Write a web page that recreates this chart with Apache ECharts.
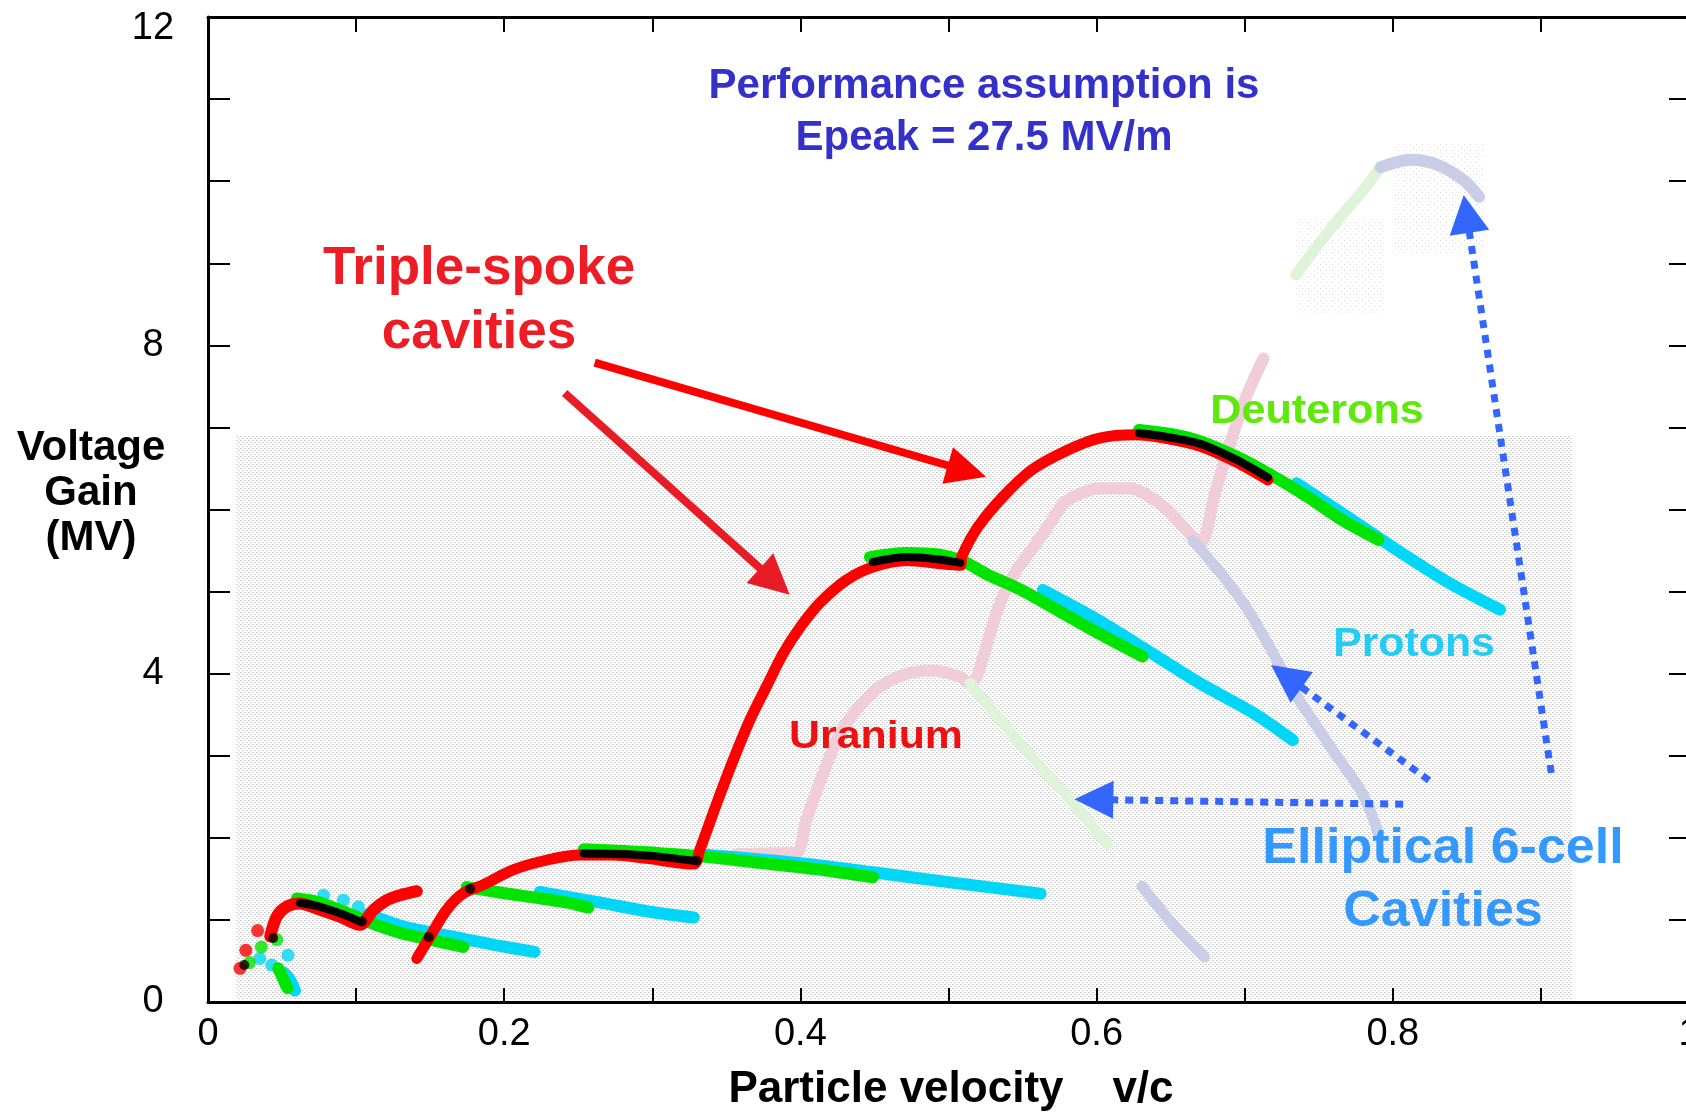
<!DOCTYPE html>
<html>
<head>
<meta charset="utf-8">
<script src="https://cdn.jsdelivr.net/npm/echarts@6/dist/echarts.min.js"></script>
<style>
  html, body { margin: 0; padding: 0; background: #ffffff; overflow: hidden; }
  #chart { width: 1686px; height: 1112px; }
</style>
</head>
<body>
<div id="chart"></div>
<script>
// ---- Tick labels ----
const xTickLabels = ['0', '0.2', '0.4', '0.6', '0.8', '1'];
const yTickLabels = ['0', '4', '8', '12'];

// ---- Triple-spoke cavities: voltage gain (MV) vs v/c ----
// Uranium (red)
const uraniumDots = [[0.0216, 0.41], [0.0255, 0.63], [0.0335, 0.87]];
const uraniumStage1 = [[0.042, 0.80], [0.0464, 1.04], [0.053, 1.16], [0.062, 1.20], [0.0734, 1.14], [0.089, 1.04],
  [0.1026, 0.94], [0.1116, 1.12], [0.1206, 1.24], [0.1296, 1.30], [0.141, 1.35]];
const uraniumStage2 = [[0.141, 0.53], [0.150, 0.80], [0.161, 1.12], [0.172, 1.32], [0.186, 1.43], [0.206, 1.61],
  [0.229, 1.73], [0.251, 1.79], [0.274, 1.79], [0.296, 1.75], [0.328, 1.68], [0.332, 1.85], [0.3435, 2.42],
  [0.3547, 2.95], [0.366, 3.44], [0.377, 3.84], [0.3885, 4.25], [0.400, 4.57], [0.413, 4.86], [0.431, 5.14],
  [0.449, 5.30], [0.472, 5.38], [0.494, 5.34], [0.508, 5.32], [0.509, 5.43], [0.520, 5.79], [0.537, 6.16],
  [0.556, 6.48], [0.5806, 6.725], [0.602, 6.87], [0.626, 6.91], [0.6457, 6.87], [0.670, 6.77], [0.694, 6.58],
  [0.7157, 6.36]];

// Deuterons (green)
const deuteronDots = [[0.028, 0.48], [0.036, 0.67], [0.0464, 0.76]];
const deuteronDrop = [[0.0475, 0.41], [0.051, 0.27], [0.0536, 0.17]];
const deuteronStage1 = [[0.060, 1.26], [0.0734, 1.22], [0.089, 1.12], [0.1026, 1.02], [0.115, 0.93], [0.130, 0.84],
  [0.150, 0.76], [0.1724, 0.67]];
const deuteronStage2 = [[0.1747, 1.40], [0.195, 1.34], [0.2174, 1.28], [0.240, 1.22], [0.2568, 1.15]];
const deuteronStage3 = [[0.2537, 1.86], [0.280, 1.84], [0.300, 1.82], [0.330, 1.78], [0.370, 1.70], [0.410, 1.62],
  [0.449, 1.52]];
const deuteronStage4 = [[0.447, 5.42], [0.4718, 5.47], [0.494, 5.45], [0.510, 5.37], [0.525, 5.22], [0.549, 5.02],
  [0.573, 4.78], [0.5975, 4.53], [0.631, 4.21]];
const deuteronStage5 = [[0.6287, 6.97], [0.650, 6.92], [0.670, 6.83], [0.694, 6.65], [0.716, 6.44], [0.742, 6.16],
  [0.766, 5.87], [0.7903, 5.63]];

// Protons (cyan)
const protonDots = [[0.035, 0.53], [0.043, 0.45], [0.054, 0.57], [0.078, 1.30], [0.0914, 1.24], [0.1015, 1.16]];
const protonDrop = [[0.051, 0.36], [0.0554, 0.27], [0.0587, 0.14]];
const protonStage1 = [[0.108, 1.07], [0.130, 0.93], [0.150, 0.85], [0.1724, 0.77], [0.195, 0.69], [0.2205, 0.61]];
const protonStage2 = [[0.224, 1.34], [0.2624, 1.22], [0.2984, 1.10], [0.328, 1.03]];
const protonStage3 = [[0.332, 1.80], [0.400, 1.69], [0.449, 1.58], [0.500, 1.46], [0.5622, 1.32]];
const protonStage4 = [[0.5637, 5.02], [0.5975, 4.69], [0.6336, 4.29], [0.670, 3.88], [0.706, 3.52], [0.7325, 3.19]];
const protonStage5 = [[0.735, 6.32], [0.766, 5.95], [0.8025, 5.51], [0.8386, 5.10], [0.8724, 4.78]];

// Where the uranium and deuteron curves coincide (black)
const sharedDots = [[0.0245, 0.45], [0.044, 0.78], [0.104, 0.98], [0.149, 0.79], [0.177, 1.38], [0.330, 1.72]];
const sharedStage1 = [[0.062, 1.21], [0.0734, 1.17], [0.089, 1.08], [0.1026, 0.98]];
const sharedStage3 = [[0.2537, 1.81], [0.280, 1.80], [0.300, 1.78], [0.328, 1.72]];
const sharedStage4 = [[0.449, 5.36], [0.472, 5.42], [0.494, 5.39], [0.508, 5.35]];
const sharedStage5 = [[0.6287, 6.93], [0.6457, 6.89], [0.670, 6.80], [0.694, 6.61], [0.7157, 6.39]];

// ---- Elliptical 6-cell cavities (faded) ----
const ellipticalUranium = [[0.357, 1.80], [0.375, 1.81], [0.397, 1.82], [0.404, 2.22], [0.4155, 2.79], [0.4267, 3.27],
  [0.438, 3.56], [0.4537, 3.84], [0.4718, 4.00], [0.4897, 4.04], [0.5078, 3.96], [0.5145, 3.88], [0.519, 3.96],
  [0.5255, 4.33], [0.5348, 4.86], [0.546, 5.26], [0.5573, 5.54], [0.5685, 5.83], [0.578, 6.08], [0.590, 6.20],
  [0.602, 6.26], [0.6216, 6.26], [0.6457, 6.03], [0.6647, 5.67], [0.6705, 5.60], [0.680, 6.20], [0.688, 6.68],
  [0.700, 7.33], [0.7127, 7.84]];
const ellipticalDeuteronLow = [[0.5145, 3.88], [0.539, 3.35], [0.5618, 2.87], [0.5843, 2.42], [0.6074, 1.92]];
const ellipticalProtonLow = [[0.665, 5.62], [0.684, 5.22], [0.701, 4.81], [0.718, 4.29], [0.7325, 3.80], [0.749, 3.35],
  [0.760, 3.05], [0.7795, 2.54], [0.7904, 2.05]];
const ellipticalProtonTail = [[0.6306, 1.41], [0.650, 0.98], [0.6727, 0.55]];
const ellipticalDeuteronHigh = [[0.7345, 8.86], [0.759, 9.44], [0.780, 9.89], [0.7918, 10.17]];
const ellipticalProtonHigh = [[0.7918, 10.17], [0.8125, 10.26], [0.830, 10.20], [0.8479, 10.01], [0.8582, 9.81]];

// ---- Colours ----
const RED = '#ff0000', GREEN = '#00e400', CYAN = '#00d6f8', BLACK = '#000000';
const PALE_PINK = '#f1cdd9', PALE_GREEN = '#dff3d8', PALE_BLUE = '#c9cde6';

const chart = echarts.init(document.getElementById('chart'), null, { renderer: 'canvas' });

function curve(data, color, width, z) {
  return {
    type: 'line', data: data, showSymbol: false, smooth: 0.3,
    lineStyle: { color: color, width: width, cap: 'round', join: 'round' },
    z: z, silent: true, animation: false
  };
}
function dots(data, color, size, z) {
  return {
    type: 'scatter', data: data, symbol: 'circle', symbolSize: size,
    itemStyle: { color: color }, z: z, silent: true, animation: false
  };
}

const series = [
  curve(ellipticalUranium, PALE_PINK, 12, 1),
  curve(ellipticalDeuteronLow, PALE_GREEN, 11, 1),
  curve(ellipticalProtonLow, PALE_BLUE, 11, 1),
  curve(ellipticalProtonTail, PALE_BLUE, 11, 1),
  curve(ellipticalDeuteronHigh, PALE_GREEN, 11, 1),
  curve(ellipticalProtonHigh, PALE_BLUE, 12, 1),

  dots(protonDots, CYAN, 13, 3),
  curve(protonDrop, CYAN, 12, 3),
  curve(protonStage1, CYAN, 12, 3),
  curve(protonStage2, CYAN, 12, 3),
  curve(protonStage3, CYAN, 12, 3),
  curve(protonStage4, CYAN, 12, 3),
  curve(protonStage5, CYAN, 12, 3),

  dots(deuteronDots, GREEN, 13, 4),
  curve(deuteronDrop, GREEN, 12, 4),
  curve(deuteronStage1, GREEN, 12, 4),
  curve(deuteronStage2, GREEN, 12, 4),
  curve(deuteronStage3, GREEN, 12, 4),
  curve(deuteronStage4, GREEN, 12, 4),
  curve(deuteronStage5, GREEN, 12, 4),

  dots(uraniumDots, RED, 13, 5),
  curve(uraniumStage1, RED, 12, 5),
  curve(uraniumStage2, RED, 11, 5),

  dots(sharedDots, BLACK, 10, 6),
  curve(sharedStage1, BLACK, 8, 6),
  curve(sharedStage3, BLACK, 8, 6),
  curve(sharedStage4, BLACK, 8, 6),
  curve(sharedStage5, BLACK, 8, 6)
];

const tickFont = { fontFamily: 'Liberation Sans', fontSize: 38, color: '#000000' };
const frameLine = { onZero: false, lineStyle: { color: '#000', width: 3 } };

chart.setOption({
  animation: false,
  backgroundColor: '#ffffff',
  grid: { left: 208, top: 17, right: -3, bottom: 110, containLabel: false, outerBoundsMode: 'none' },
  xAxis: [
    {
      type: 'value', min: 0, max: 1, interval: 0.1, position: 'bottom',
      axisLine: frameLine,
      axisTick: { show: true, inside: true, length: 14, lineStyle: { color: '#000', width: 2 } },
      splitLine: { show: false },
      axisLabel: Object.assign({
        margin: 14, hideOverlap: false,
        formatter: function (v) { const r = Math.round(v * 10); return r % 2 === 0 ? xTickLabels[r / 2] : ''; }
      }, tickFont)
    },
    {
      type: 'value', min: 0, max: 1, interval: 0.1, position: 'top',
      axisLine: frameLine,
      axisTick: { show: true, inside: true, length: 15, lineStyle: { color: '#000', width: 2 } },
      splitLine: { show: false }, axisLabel: { show: false }
    }
  ],
  yAxis: [
    {
      type: 'value', min: 0, max: 12, interval: 1, position: 'left',
      axisLine: frameLine,
      axisTick: { show: true, inside: true, length: 22, lineStyle: { color: '#000', width: 2 } },
      splitLine: { show: false },
      axisLabel: Object.assign({
        margin: 55, align: 'center',
        formatter: function (v) {
          const r = Math.round(v);
          if (r % 4 !== 0) return '';
          return r === 12 ? '{top|' + yTickLabels[r / 4] + '}' : yTickLabels[r / 4];
        },
        rich: { top: { fontFamily: 'Liberation Sans', fontSize: 38, color: '#000', lineHeight: 38, padding: [24, 0, 0, 0] } }
      }, tickFont)
    },
    {
      type: 'value', min: 0, max: 12, interval: 1, position: 'right',
      axisLine: frameLine,
      axisTick: { show: true, inside: true, length: 20, lineStyle: { color: '#000', width: 2 } },
      splitLine: { show: false }, axisLabel: { show: false }
    }
  ],
  series: series
});

// ---- Annotations: stippled backdrop, titles, labels and arrows ----
const toPx = (p) => chart.convertToPixel({ gridIndex: 0 }, p);

function makeTile(size, dotsSpec) {
  const c = document.createElement('canvas');
  c.width = size; c.height = size;
  const ctx = c.getContext('2d');
  ctx.fillStyle = '#ffffff'; ctx.fillRect(0, 0, size, size);
  dotsSpec.forEach(d => { ctx.fillStyle = d[2]; ctx.fillRect(d[0], d[1], 1, 1); });
  return c;
}
const denseTile = makeTile(4, [[0, 0, '#c4c4c4'], [2, 2, '#c4c4c4'], [1, 0, '#dedede'], [3, 2, '#dedede']]);
const sparseTile = makeTile(6, [[0, 0, '#d4d4d4'], [3, 3, '#e4e4e4']]);

// stippled regions in data space: [lower-left, upper-right, tile]
const stippleBoxes = [
  [[0.019, 0.02], [0.921, 6.90], denseTile],
  [[0.800, 9.10], [0.862, 10.45], sparseTile],
  [[0.735, 8.40], [0.795, 9.55], sparseTile]
];

function arrow(tail, tip, color, width, dash, headLen, headW) {
  const p0 = toPx(tail), p1 = toPx(tip);
  const dx = p1[0] - p0[0], dy = p1[1] - p0[1];
  const len = Math.sqrt(dx * dx + dy * dy);
  const ux = dx / len, uy = dy / len, nx = -uy, ny = ux;
  const bx = p1[0] - ux * headLen, by = p1[1] - uy * headLen;
  return [
    { type: 'line', z: 20, silent: true,
      shape: { x1: p0[0], y1: p0[1], x2: bx + ux * 2, y2: by + uy * 2 },
      style: { stroke: color, lineWidth: width, lineDash: dash, lineCap: 'butt' } },
    { type: 'polygon', z: 20, silent: true,
      shape: { points: [[p1[0], p1[1]], [bx + nx * headW / 2, by + ny * headW / 2], [bx - nx * headW / 2, by - ny * headW / 2]] },
      style: { fill: color } }
  ];
}

function label(text, x, y, size, color, extra) {
  return Object.assign({
    type: 'text', x: x, y: y, z: 30, silent: true,
    style: {
      text: text, fill: color, align: 'center', verticalAlign: 'middle',
      font: 'bold ' + size + 'px "Liberation Sans", Arial, sans-serif', lineHeight: size * 1.07
    }
  }, extra || {});
}

const graphics = stippleBoxes.map(b => {
  const a = toPx(b[0]), c = toPx(b[1]);
  return { type: 'rect', z: -1, silent: true,
    shape: { x: a[0], y: c[1], width: c[0] - a[0], height: a[1] - c[1] },
    style: { fill: { image: b[2], repeat: 'repeat' } } };
});

graphics.push(
  label('Voltage\nGain\n(MV)', 91, 493, 42, '#000000'),
  label('Particle velocity    v/c', 951, 1090, 44, '#000000'),

  label('Performance assumption is', 984, 86, 42, '#3431c9'),
  label('Epeak = 27.5 MV/m', 984, 138, 42, '#3431c9'),
  label('Triple-spoke', 479, 269, 53, '#ee1c25'),
  label('cavities', 479, 333, 53, '#ee1c25'),
  label('Deuterons', 1317, 412, 40, '#5ee80c', { scaleX: 1.08 }),
  label('Protons', 1414, 645, 40, '#20cdf4', { scaleX: 1.07 }),
  label('Uranium', 876, 737, 39, '#ee1111', { scaleX: 1.1 }),
  label('Elliptical 6-cell', 1443, 849, 50, '#3399ff', { scaleX: 1.04 }),
  label('Cavities', 1443, 912, 50, '#3399ff', { scaleX: 1.04 })
);

const arrows = [
  arrow([0.2611, 7.79], [0.5254, 6.40], '#ff0000', 8, null, 40, 38),
  arrow([0.2408, 7.42], [0.3928, 4.96], '#e81c25', 8, null, 40, 40),
  arrow([0.807, 2.41], [0.585, 2.47], '#3366ff', 7, [8, 7], 39, 38),
  arrow([0.8245, 2.70], [0.7178, 4.106], '#3366ff', 7, [8, 7], 38, 38),
  arrow([0.907, 2.79], [0.8479, 9.83], '#3366ff', 7, [8, 7], 38, 40)
];
arrows.forEach(a => graphics.push(a[0], a[1]));

chart.setOption({ graphic: { elements: graphics } });
</script>
</body>
</html>
